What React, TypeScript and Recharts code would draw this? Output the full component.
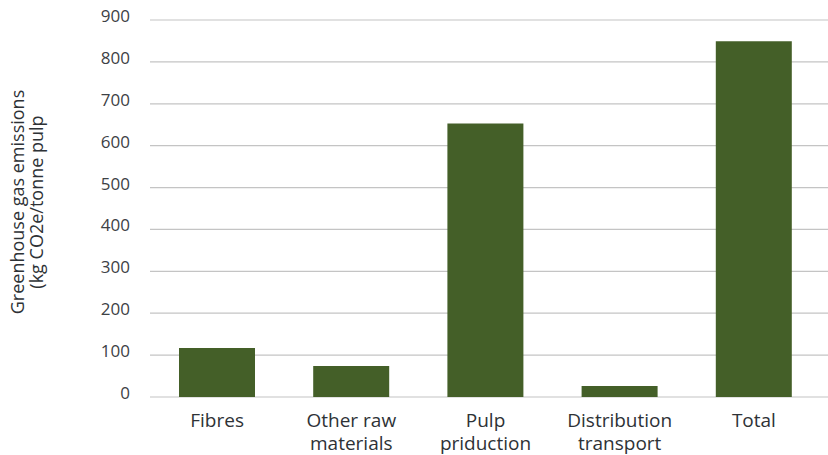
import React from 'react';
import { BarChart, Bar, XAxis, YAxis, CartesianGrid, Label } from 'recharts';

const categories = ['Fibres', 'Other raw\nmaterials', 'Pulp\npriduction', 'Distribution\ntransport', 'Total'];
const emissions = [117, 74, 653, 26, 849];
const yTicks = [0, 100, 200, 300, 400, 500, 600, 700, 800, 900];
const yLabelLines = ['Greenhouse gas emissions', '(kg CO2e/tonne pulp'];

const FONT = '"Open Sans", "Noto Sans", sans-serif';

const data = categories.map((name, i) => ({ name, value: emissions[i] }));

// one <text> per line so wrapped labels stay separate
const CategoryTick = (props: any) => {
  const { x, y, payload } = props;
  const lines = String(payload.value).split('\n');
  return (
    <g transform={`translate(${x},${y})`}>
      {lines.map((l, i) => (
        <text key={i} x={0} y={22 + i * 23} textAnchor="middle" fill="#2e3236" fontSize={19} fontFamily={FONT}>
          {l}
        </text>
      ))}
    </g>
  );
};

const ValueTick = (props: any) => {
  const { x, y, payload } = props;
  return (
    <text x={x} y={y} dy={2} textAnchor="end" fill="#3d4145" fontSize={17} fontFamily={FONT}>
      {payload.value}
    </text>
  );
};

const AxisTitle = () => (
  <g transform="translate(0,202) rotate(-90)">
    {yLabelLines.map((l, i) => (
      <text key={i} x={0} y={i === 0 ? 24 : 43} textAnchor="middle" fill="#2e3236" fontSize={18} fontFamily={FONT}>
        {l}
      </text>
    ))}
  </g>
);

export default function App() {
  return (
    <div style={{ position: 'absolute', left: 0, top: 0, background: '#fff' }}>
      <BarChart width={828} height={455} data={data} margin={{ top: 20, right: 0, bottom: 0, left: 0 }}>
        <CartesianGrid vertical={false} stroke="#c4c4c4" strokeWidth={1.2} />
        <XAxis
          dataKey="name"
          height={58}
          axisLine={false}
          tickLine={false}
          interval={0}
          padding={{ left: 0, right: 7 }}
          tick={<CategoryTick />}
        />
        <YAxis
          width={150}
          domain={[0, 900]}
          ticks={yTicks}
          axisLine={false}
          tickLine={false}
          tickMargin={14}
          tick={<ValueTick />}
        >
          <Label content={<AxisTitle />} />
        </YAxis>
        <Bar dataKey="value" fill="#445f28" barSize={76} isAnimationActive={false} />
      </BarChart>
    </div>
  );
}
